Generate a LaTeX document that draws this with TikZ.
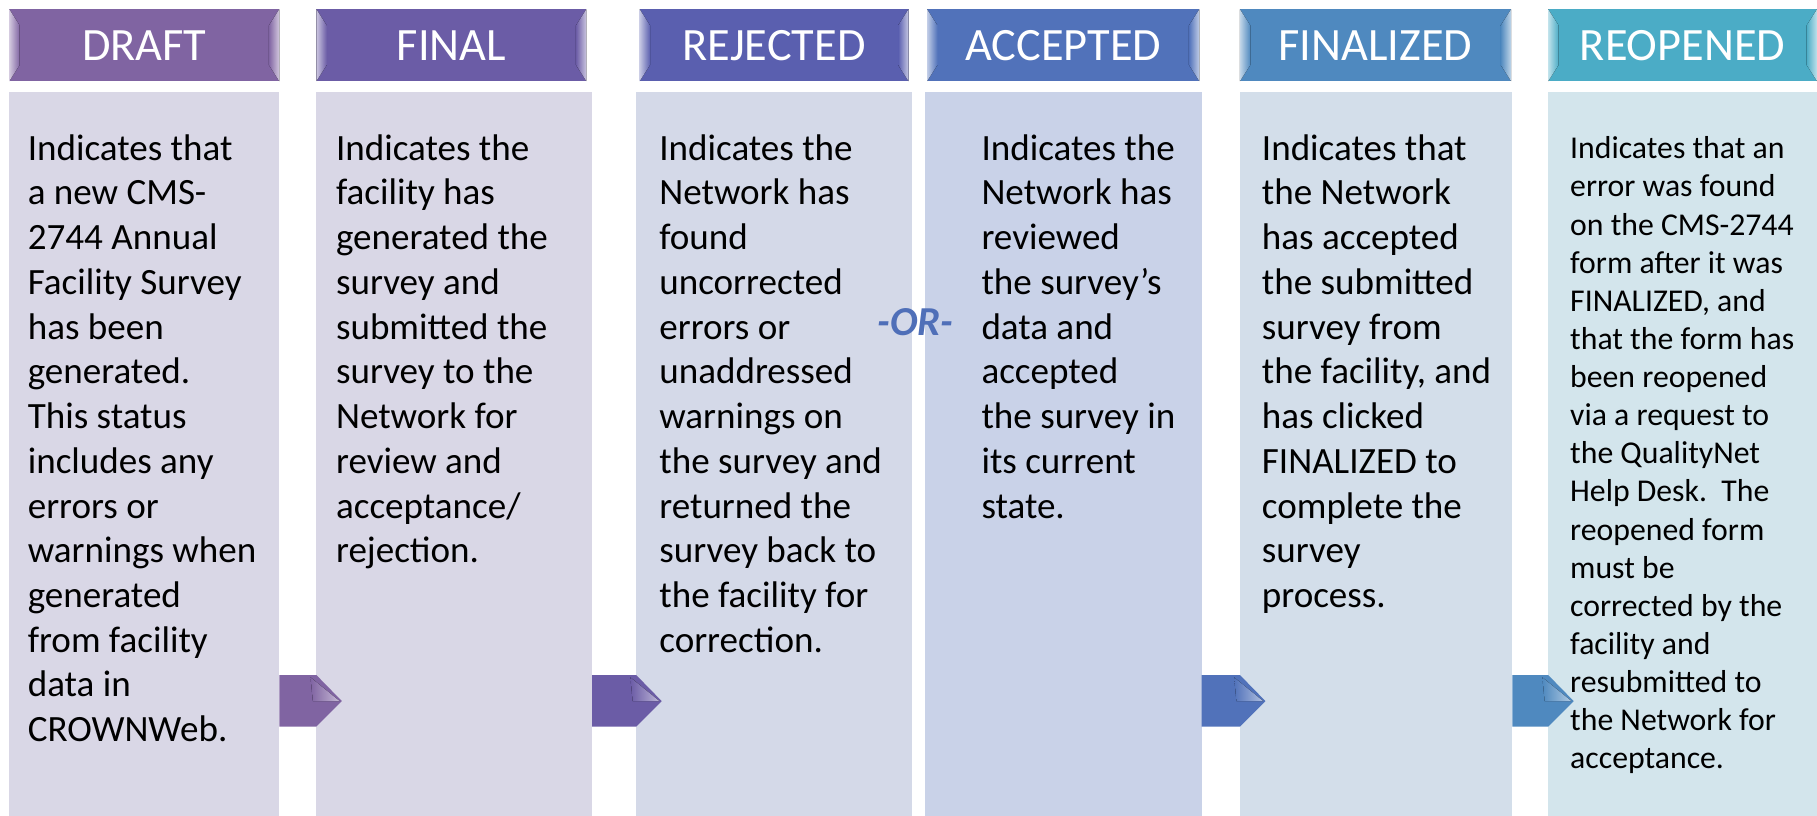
\documentclass[tikz,border=0pt]{standalone}
\usepackage{fontspec}
\setmainfont{Carlito}
\usetikzlibrary{calc}
\definecolor{hA}{HTML}{8064A2}
\definecolor{hB}{HTML}{6B5CA6}
\definecolor{hC}{HTML}{5A5FAF}
\definecolor{hD}{HTML}{5172BA}
\definecolor{hE}{HTML}{4F89BF}
\definecolor{hF}{HTML}{4BACC6}
\definecolor{bA}{HTML}{D9D7E6}
\definecolor{bB}{HTML}{D9D7E6}
\definecolor{bC}{HTML}{D4D9E8}
\definecolor{bD}{HTML}{C9D2E8}
\definecolor{bE}{HTML}{D3DEEA}
\definecolor{bF}{HTML}{D3E5EC}
\definecolor{orc}{HTML}{4F6FB8}
\newcommand\hdrbevel[2]{%
  \fill[left color=#2!35!white, right color=#2] (#1.north west) -- ([xshift=9pt,yshift=-14pt]#1.north west) -- ([xshift=9pt,yshift=14pt]#1.south west) -- (#1.south west) -- cycle;
  \fill[right color=#2!35!white, left color=#2] (#1.north east) -- ([xshift=-9pt,yshift=-14pt]#1.north east) -- ([xshift=-9pt,yshift=14pt]#1.south east) -- (#1.south east) -- cycle;
}
\newcommand\flowarrow[3]{%
  \fill[#3] (#1.east|-atop) -- (#2.west|-atop) -- ($(#2.west|-amid)+(22,0)$) -- (#2.west|-abot) -- (#1.east|-abot) -- cycle;
  \fill[left color=#3, right color=#3!45!white] ($(#2.west|-atop)+(-5,2)$) -- ($(#2.west|-amid)+(20,0)$) -- ($(#2.west|-amid)+(-3,0)$) -- cycle;
}
\begin{document}
\begin{tikzpicture}[x=1pt,y=-1pt,
  panel/.style={inner sep=0pt, outer sep=0pt, anchor=north west, minimum height=625pt},
  hdr/.style={inner sep=0pt, outer sep=0pt, anchor=north west, minimum height=62pt, text=white, font=\fontsize{40}{48}\selectfont},
  bodytext/.style={inner sep=0pt, outer sep=0pt, anchor=north west, align=left, text=black, font=\fontsize{32}{38.6}\selectfont},
  smalltext/.style={bodytext, font=\fontsize{27.4}{32.9}\selectfont},
  ortext/.style={text=orc, font=\fontsize{35.5}{40}\selectfont\bfseries\itshape}
]
\useasboundingbox (0,0) rectangle (1568,704);
\fill[white] (0,0) rectangle (1568,704);
\coordinate (atop) at (0,582.5);
\coordinate (amid) at (0,605);
\coordinate (abot) at (0,627);

% body panels
\node[panel, fill=bA, minimum width=233pt] (b1) at (8,79) {};
\node[panel, fill=bB, minimum width=238pt] (b2) at (273,79) {};
\node[panel, fill=bC, minimum width=238pt] (b3) at (549,79) {};
\node[panel, fill=bD, minimum width=239pt] (b4) at (798,79) {};
\node[panel, fill=bE, minimum width=235pt] (b5) at (1070,79) {};
\node[panel, fill=bF, minimum width=232pt] (b6) at (1336,79) {};

% headers
\node[hdr, fill=hA, minimum width=233pt] (h1) at (8,8) {DRAFT};
\node[hdr, fill=hB, minimum width=233pt] (h2) at (273,8) {FINAL};
\node[hdr, fill=hC, minimum width=232pt] (h3) at (552,8) {REJECTED};
\node[hdr, fill=hD, minimum width=235pt] (h4) at (800,8) {ACCEPTED};
\node[hdr, fill=hE, minimum width=234pt] (h5) at (1070,8) {FINALIZED};
\node[hdr, fill=hF, minimum width=232pt] (h6) at (1336,8) {REOPENED};
\hdrbevel{h1}{hA}
\hdrbevel{h2}{hB}
\hdrbevel{h3}{hC}
\hdrbevel{h4}{hD}
\hdrbevel{h5}{hE}
\hdrbevel{h6}{hF}

% arrows
\flowarrow{b1}{b2}{hA}
\flowarrow{b2}{b3}{hB}
\flowarrow{b4}{b5}{hD}
\flowarrow{b5}{b6}{hE}

% texts
\node[bodytext] (t1) at (24,116) {Indicates that\\a new CMS-\\2744 Annual\\Facility Survey\\has been\\generated.\\This status\\includes any\\errors or\\warnings when\\generated\\from facility\\data in\\CROWNWeb.};
\node[bodytext] (t2) at (290,116) {Indicates the\\facility has\\generated the\\survey and\\submitted the\\survey to the\\Network for\\review and\\acceptance/\\rejection.};
\node[bodytext] (t3) at (569,116) {Indicates the\\Network has\\found\\uncorrected\\errors or\\unaddressed\\warnings on\\the survey and\\returned the\\survey back to\\the facility for\\correction.};
\node[bodytext] (t4) at (847,116) {Indicates the\\Network has\\reviewed\\the survey’s\\data and\\accepted\\the survey in\\its current\\state.};
\node[bodytext] (t5) at (1089,116) {Indicates that\\the Network\\has accepted\\the submitted\\survey from\\the facility, and\\has clicked\\FINALIZED to\\complete the\\survey\\process.};
\node[smalltext] (t6) at (1355,118) {Indicates that an\\error was found\\on the CMS-2744\\form after it was\\FINALIZED, and\\that the form has\\been reopened\\via a request to\\the QualityNet\\Help Desk.\ \ The\\reopened form\\must be\\corrected by the\\facility and\\resubmitted to\\the Network for\\acceptance.};
\node[ortext] (or) at (790,278) {-OR-};
\end{tikzpicture}
\end{document}
